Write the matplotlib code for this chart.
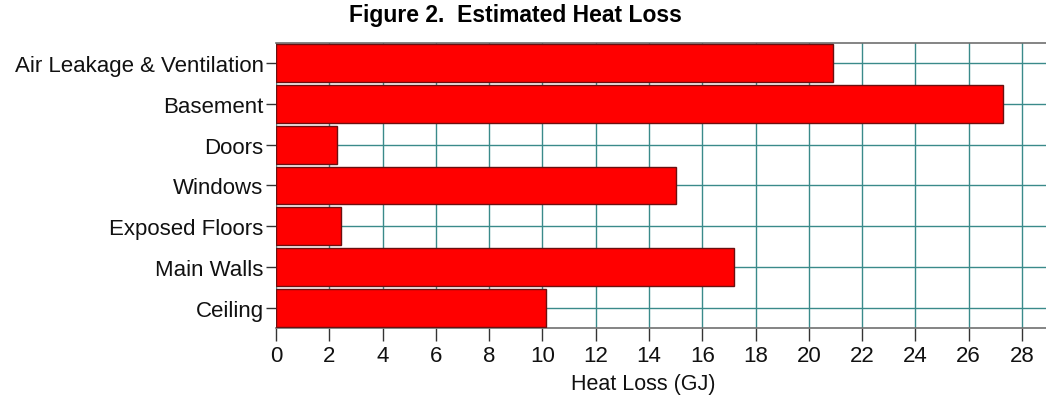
import matplotlib
matplotlib.use('Agg')
import matplotlib.pyplot as plt

categories = ['Air Leakage & Ventilation', 'Basement', 'Doors', 'Windows',
              'Exposed Floors', 'Main Walls', 'Ceiling']
heat_loss = [20.9, 27.3, 2.3, 15.0, 2.45, 17.2, 10.15]
x_ticks = list(range(0, 29, 2))

plt.rcParams['font.family'] = ['Liberation Sans', 'DejaVu Sans']

fig = plt.figure(figsize=(10.46, 4.06), dpi=100)
ax = fig.add_axes([0.2639, 0.1897, 0.7361, 0.7019])

pos = list(range(len(categories)))[::-1]
ax.barh(pos, heat_loss, height=0.93, color='#ff0000', edgecolor='#6b1010',
        linewidth=1.0, zorder=3)

ax.set_xlim(0, 28.9)
ax.set_ylim(-0.5, 6.5)
ax.set_yticks(pos)
ax.set_yticklabels(categories, fontsize=16, color='#111111')
ax.set_xticks(x_ticks)
ax.set_xticklabels([str(t) for t in x_ticks], fontsize=16, color='#111111')
ax.tick_params(axis='y', length=7, width=1, color='#333333', pad=2)
ax.tick_params(axis='x', length=9, width=1, color='#333333', pad=3)

ax.grid(True, color='#3a8a8a', linewidth=1.0, zorder=0)
ax.set_axisbelow(True)

for s in ['top', 'bottom']:
    ax.spines[s].set_color('#707070')
    ax.spines[s].set_linewidth(1.2)
ax.spines['left'].set_visible(False)
ax.spines['right'].set_visible(False)

fig.text(0.615, 0.052, 'Heat Loss (GJ)', ha='center', va='center',
         fontsize=15.5, color='#111111')
fig.text(0.493, 0.963, 'Figure 2.  Estimated Heat Loss', ha='center', va='center',
         fontsize=16.5, fontweight='bold')

fig.savefig('out.png', dpi=100)
